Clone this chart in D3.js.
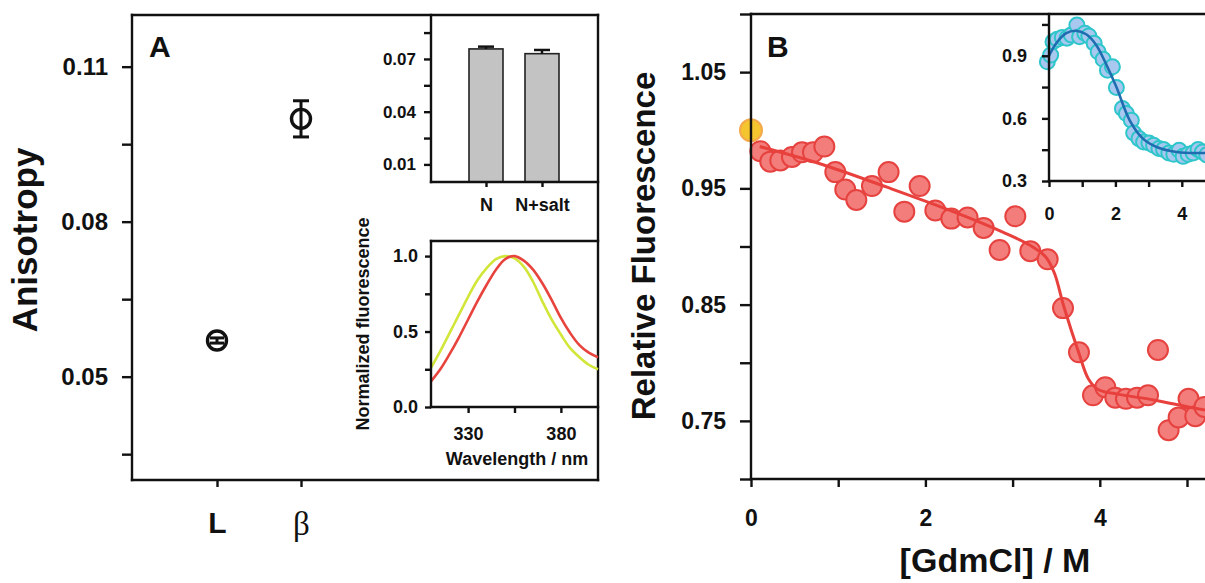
<!DOCTYPE html>
<html lang="en">
<head>
<meta charset="UTF-8">
<title>Anisotropy and GdmCl denaturation</title>
<style>
  body { margin: 0; background: #fff; }
  text { font-family: "Liberation Sans", Arial, sans-serif; font-weight: bold; fill: #111; }
</style>
</head>
<body>
<div id="chart"></div>
<script src="https://d3js.org/d3.v7.min.js"></script>
<script>
// ---- panel A: anisotropy ----
var anisoCats = ["L", "β"];
var anisoVals = [0.0570, 0.0999];
var anisoErr = [0.0005, 0.0035];
var anisoTicks = [0.05, 0.08, 0.11];
var anisoMinor = [0.035, 0.065, 0.095];

// inset: bars
var barCats = ["N", "N+salt"];
var barVals = [0.0757, 0.0730];
var barErr = [0.0013, 0.0021];
var barTicks = [0.01, 0.04, 0.07];
var barMinor = [0.025, 0.055, 0.085];

// inset: normalized emission spectra
var waveNm = [310, 315, 320, 325, 330, 335, 340, 345, 350, 355, 360, 365, 370, 375, 380, 385, 390, 395, 400];
var specYellow = [0.26, 0.37, 0.49, 0.61, 0.73, 0.84, 0.92, 0.98, 1.00, 0.985, 0.93, 0.83, 0.70, 0.58, 0.48, 0.39, 0.33, 0.28, 0.25];
var specRed = [0.17, 0.25, 0.35, 0.46, 0.58, 0.70, 0.81, 0.91, 0.98, 1.00, 0.97, 0.91, 0.82, 0.71, 0.59, 0.49, 0.41, 0.36, 0.33];
var specYTicks = [0.0, 0.5, 1.0];
var specYMinor = [0.25, 0.75];
var specXTicks = [330, 380];
var specXMinor = [355];

// ---- panel B: GdmCl denaturation ----
var gdm = [0.107, 0.221, 0.336, 0.470, 0.585, 0.711, 0.841, 0.967, 1.081, 1.208, 1.387, 1.578, 1.758, 1.934,
           2.114, 2.297, 2.484, 2.668, 2.851, 3.031, 3.203, 3.402, 3.578, 3.761, 3.922, 4.063, 4.178, 4.300,
           4.427, 4.553, 4.667, 4.789, 4.904, 5.018, 5.095, 5.200];
var relFl = [0.982, 0.973, 0.974, 0.977, 0.981, 0.981, 0.986, 0.964, 0.949, 0.940, 0.952, 0.964, 0.930, 0.952,
             0.931, 0.924, 0.925, 0.916, 0.897, 0.926, 0.896, 0.889, 0.847, 0.809, 0.772, 0.779, 0.770, 0.769,
             0.770, 0.772, 0.811, 0.742, 0.753, 0.769, 0.754, 0.762];
var nativeGdm = [0];
var nativeFl = [1.000];
var fitGdm = [0.1, 0.8, 1.56, 2.32, 2.9, 3.2, 3.38, 3.48, 3.585, 3.757, 3.87, 3.98, 4.2, 4.62, 5.08, 5.4];
var fitFl = [0.986, 0.971, 0.951, 0.930, 0.912, 0.901, 0.891, 0.877, 0.849, 0.809, 0.786, 0.777, 0.773, 0.768, 0.761, 0.757];
var bYTicks = [0.75, 0.85, 0.95, 1.05];
var bYMinor = [0.70, 0.80, 0.90, 1.00, 1.10];
var bXTicks = [0, 2, 4];
var bXMinor = [1, 3, 5];

// inset B
var inGdm = [-0.05, 0.05, 0.12, 0.25, 0.40, 0.54, 0.67, 0.84, 0.92, 1.08, 1.20, 1.36, 1.48, 1.63, 1.76, 1.91,
             2.03, 2.21, 2.33, 2.48, 2.55, 2.71, 2.85, 3.01, 3.15, 3.31, 3.45, 3.61, 3.76, 3.92, 4.04, 4.19,
             4.34, 4.49, 4.62, 4.75];
var inVal = [0.871, 0.903, 0.967, 0.979, 0.988, 0.984, 1.000, 1.047, 0.991, 1.008, 0.995, 0.960, 0.919, 0.883,
             0.831, 0.847, 0.748, 0.647, 0.623, 0.591, 0.530, 0.503, 0.487, 0.482, 0.471, 0.456, 0.451, 0.434,
             0.428, 0.447, 0.418, 0.428, 0.434, 0.451, 0.439, 0.425];
var inFitGdm = [0, 0.22, 0.52, 0.8, 1.12, 1.42, 1.75, 2.03, 2.43, 2.83, 3.24, 3.84, 4.69, 5.5];
var inFitVal = [0.90, 0.96, 1.008, 1.02, 1.003, 0.952, 0.85, 0.75, 0.591, 0.503, 0.463, 0.439, 0.434, 0.434];
var inYTicks = [0.3, 0.6, 0.9];
var inYMinor = [0.45, 0.75, 1.05];
var inXTicks = [0, 2, 4];
var inXMinor = [1, 3, 5];

var W = 1205, H = 583;
var svg = d3.select("#chart").append("svg").attr("width", W).attr("height", H);

var axisStroke = 2.4;

// draws an axis with labelled majors plus unlabelled minors
function drawAxis(g, scale, side, majors, minors, fmt, size, pad, fontSize) {
    var mk = side === "left" ? d3.axisLeft : d3.axisBottom;
    var a = g.append("g").call(mk(scale).tickValues(majors).tickSize(size).tickPadding(pad).tickFormat(fmt));
    a.select(".domain").remove();
    a.selectAll("line").attr("stroke", "#111").attr("stroke-width", axisStroke);
    a.selectAll("text").style("font-size", fontSize + "px").attr("fill", "#111");
    if (minors && minors.length) {
        var m = g.append("g").call(mk(scale).tickValues(minors).tickSize(size).tickFormat(""));
        m.select(".domain").remove();
        m.selectAll("line").attr("stroke", "#111").attr("stroke-width", axisStroke);
    }
    return a;
}

function hline(x1, x2, y) {
    svg.append("line").attr("x1", x1).attr("x2", x2).attr("y1", y).attr("y2", y)
        .attr("stroke", "#111").attr("stroke-width", axisStroke).attr("stroke-linecap", "square");
}
function vline(x, y1, y2) {
    svg.append("line").attr("x1", x).attr("x2", x).attr("y1", y1).attr("y2", y2)
        .attr("stroke", "#111").attr("stroke-width", axisStroke).attr("stroke-linecap", "square");
}

// ================= Panel A =================
var aL = 132, aT = 15, aR = 598, aB = 480;
var xA = d3.scalePoint().domain(anisoCats).range([217, 301]);
var yA = d3.scaleLinear().domain([0.03, 0.12]).range([aB, aT]);

var gA = svg.append("g");
var gAy = gA.append("g").attr("transform", "translate(" + aL + ",0)");
drawAxis(gAy, yA, "left", anisoTicks, anisoMinor, d3.format(".2f"), 10, 14, 24);
var gAx = gA.append("g").attr("transform", "translate(0," + aB + ")");
var axA = drawAxis(gAx, xA, "bottom", anisoCats, [], function (d) { return d; }, 7, 25, 30);
axA.selectAll("text").filter(function (d) { return d === "β"; })
    .style("font-family", "'Liberation Serif', 'Times New Roman', serif")
    .style("font-weight", "normal").style("font-size", "33px");

// frame
hline(aL, aR, aT); hline(aL, aR, aB); vline(aL, aT, aB); vline(aR, aT, aB);

// error bars + open circles
anisoCats.forEach(function (c, i) {
    var cx = xA(c), v = anisoVals[i], e = anisoErr[i];
    var capW = i === 0 ? 7 : 8;
    var g = gA.append("g");
    g.append("circle").attr("cx", cx).attr("cy", yA(v)).attr("r", 9.5)
        .attr("fill", "#fff").attr("stroke", "#111").attr("stroke-width", 3.4);
    g.append("line").attr("x1", cx).attr("x2", cx).attr("y1", yA(v - e)).attr("y2", yA(v + e))
        .attr("stroke", "#111").attr("stroke-width", 3);
    [v - e, v + e].forEach(function (yy) {
        g.append("line").attr("x1", cx - capW).attr("x2", cx + capW).attr("y1", yA(yy)).attr("y2", yA(yy))
            .attr("stroke", "#111").attr("stroke-width", 3);
    });
});

gA.append("text").attr("x", 149).attr("y", 57).style("font-size", "30px").text("A");
gA.append("text").attr("transform", "translate(37,240) rotate(-90)").attr("text-anchor", "middle")
    .style("font-size", "35px").text("Anisotropy");

// ---- inset bars ----
var ibL = 431, ibT = 15, ibR = 598, ibB = 182;
var xBar = d3.scalePoint().domain(barCats).range([486, 542]);
var yBar = d3.scaleLinear().domain([0, 0.095]).range([ibB, ibT]);
var gIb = svg.append("g");
gIb.selectAll("rect.bar").data(barVals).enter().append("rect").attr("class", "bar")
    .attr("x", function (d, i) { return xBar(barCats[i]) - 17; })
    .attr("width", 34)
    .attr("y", function (d) { return yBar(d); })
    .attr("height", function (d) { return ibB - yBar(d); })
    .attr("fill", "#c3c3c3").attr("stroke", "#222").attr("stroke-width", 1.6);
barVals.forEach(function (v, i) {
    var cx = xBar(barCats[i]);
    gIb.append("line").attr("x1", cx).attr("x2", cx).attr("y1", yBar(v)).attr("y2", yBar(v + barErr[i]))
        .attr("stroke", "#111").attr("stroke-width", 2.5);
    gIb.append("line").attr("x1", cx - 8).attr("x2", cx + 8).attr("y1", yBar(v + barErr[i])).attr("y2", yBar(v + barErr[i]))
        .attr("stroke", "#111").attr("stroke-width", 2.5);
});
drawAxis(gIb.append("g").attr("transform", "translate(" + ibL + ",0)"), yBar, "left", barTicks, barMinor, d3.format(".2f"), 7, 8, 17);
drawAxis(gIb.append("g").attr("transform", "translate(0," + ibB + ")"), xBar, "bottom", barCats, [], function (d) { return d; }, 5, 11, 18);
vline(ibL, ibT, ibB); hline(ibL, ibR, ibB);

// ---- inset spectra ----
var isL = 431, isT = 241, isR = 598, isB = 407;
var xSp = d3.scaleLinear().domain([310, 400]).range([isL, isR]);
var ySp = d3.scaleLinear().domain([0, 1.1]).range([isB, isT]);
var gIs = svg.append("g");
var spLine = d3.line().x(function (d) { return xSp(d[0]); }).y(function (d) { return ySp(d[1]); })
    .curve(d3.curveCatmullRom);
gIs.append("path").datum(waveNm.map(function (w, i) { return [w, specYellow[i]]; }))
    .attr("d", spLine).attr("fill", "none").attr("stroke", "#d2e63a").attr("stroke-width", 2.6);
gIs.append("path").datum(waveNm.map(function (w, i) { return [w, specRed[i]]; }))
    .attr("d", spLine).attr("fill", "none").attr("stroke", "#e8443e").attr("stroke-width", 2.6);
drawAxis(gIs.append("g").attr("transform", "translate(" + isL + ",0)"), ySp, "left", specYTicks, specYMinor, d3.format(".1f"), 6, 7, 18);
drawAxis(gIs.append("g").attr("transform", "translate(0," + isB + ")"), xSp, "bottom", specXTicks, specXMinor, d3.format("d"), 6, 14, 18);
vline(isL, isT, isB); hline(isL, isR, isB); hline(isL, isR, isT);
gIs.append("text").attr("transform", "translate(369,324) rotate(-90)").attr("text-anchor", "middle")
    .style("font-size", "18px").text("Normalized fluorescence");
gIs.append("text").attr("x", 517).attr("y", 465).attr("text-anchor", "middle")
    .style("font-size", "18px").text("Wavelength / nm");

// ================= Panel B =================
var bL = 751, bT = 14, bB = 479;
var xB = d3.scaleLinear().domain([0, 6]).range([bL, bL + 6 * 87.2]);
var yB = d3.scaleLinear().domain([0.70, 1.10]).range([bB, bT]);
var gB = svg.append("g");
drawAxis(gB.append("g").attr("transform", "translate(" + bL + ",0)"), yB, "left", bYTicks, bYMinor, d3.format(".2f"), 11, 14, 23);
drawAxis(gB.append("g").attr("transform", "translate(0," + bB + ")"), xB, "bottom", bXTicks, bXMinor, d3.format("d"), 8, 23, 23);
vline(bL, bT, bB); hline(bL, xB(6), bT); hline(bL, xB(6), bB);

var fitLine = d3.line().x(function (d) { return xB(d[0]); }).y(function (d) { return yB(d[1]); })
    .curve(d3.curveCatmullRom);
gB.selectAll("circle.pt").data(gdm).enter().append("circle").attr("class", "pt")
    .attr("cx", function (d) { return xB(d); })
    .attr("cy", function (d, i) { return yB(relFl[i]); })
    .attr("r", 10).attr("fill", "#f37d7b").attr("stroke", "#e6423f").attr("stroke-width", 2);
gB.append("path").datum(fitGdm.map(function (g, i) { return [g, fitFl[i]]; }))
    .attr("d", fitLine).attr("fill", "none").attr("stroke", "#e8403c").attr("stroke-width", 3);
gB.selectAll("circle.nat").data(nativeGdm).enter().append("circle").attr("class", "nat")
    .attr("cx", function (d) { return xB(d); })
    .attr("cy", function (d, i) { return yB(nativeFl[i]); })
    .attr("r", 11).attr("fill", "#f4c52e").attr("stroke", "#f3a94c").attr("stroke-width", 2);

gB.append("text").attr("x", 767).attr("y", 57).style("font-size", "30px").text("B");
gB.append("text").attr("transform", "translate(655,246) rotate(-90)").attr("text-anchor", "middle")
    .style("font-size", "33px").text("Relative Fluorescence");
gB.append("text").attr("x", 995).attr("y", 572).attr("text-anchor", "middle")
    .style("font-size", "34px").text("[GdmCl] / M");

// ---- inset B ----
var ibbL = 1049, ibbT = 14, ibbB = 181;
var xIn = d3.scaleLinear().domain([0, 6]).range([ibbL, ibbL + 6 * 33.2]);
var yIn = d3.scaleLinear().domain([0.3, 1.1]).range([ibbB, ibbT]);
var gIn = svg.append("g");
var inLine = d3.line().x(function (d) { return xIn(d[0]); }).y(function (d) { return yIn(d[1]); })
    .curve(d3.curveCatmullRom);
gIn.selectAll("circle").data(inGdm).enter().append("circle")
    .attr("cx", function (d) { return xIn(d); })
    .attr("cy", function (d, i) { return yIn(inVal[i]); })
    .attr("r", 7.5).attr("fill", "#a9c8f0").attr("stroke", "#2fc6cb").attr("stroke-width", 2);
gIn.append("path").datum(inFitGdm.map(function (g, i) { return [g, inFitVal[i]]; }))
    .attr("d", inLine).attr("fill", "none").attr("stroke", "#1f6db0").attr("stroke-width", 2.6);
drawAxis(gIn.append("g").attr("transform", "translate(" + ibbL + ",0)"), yIn, "left", inYTicks, inYMinor, d3.format(".1f"), 7, 15, 18);
drawAxis(gIn.append("g").attr("transform", "translate(0," + ibbB + ")"), xIn, "bottom", inXTicks, inXMinor, d3.format("d"), 6, 20, 18);
vline(ibbL, ibbT, ibbB); hline(ibbL, xIn(6), ibbB);
</script>
</body>
</html>
